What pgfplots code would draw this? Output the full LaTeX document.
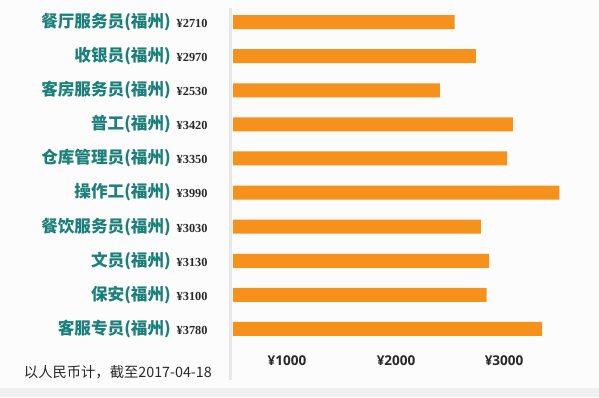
\documentclass[border=0pt]{standalone}
\usepackage{fontspec}
\usepackage{pgfplots}
\pgfplotsset{compat=1.18}
\setmainfont{Liberation Sans}
\newfontfamily\cjk{Noto Sans CJK SC}
\newfontfamily\valfont{Liberation Serif}
\newfontfamily\tickfont{Open Sans}
\definecolor{barorange}{RGB}{246,146,28}
\definecolor{tealtxt}{RGB}{28,128,122}
\definecolor{darktxt}{RGB}{40,40,40}
\newcommand{\lab}[2]{\textcolor{tealtxt}{\cjk\bfseries\fontsize{16.6}{16.6}\selectfont #1}\hspace{6pt}{\valfont\bfseries\fontsize{12.3}{12.3}\selectfont\color{darktxt}¥#2}}
\begin{document}
\begin{tikzpicture}[x=1pt,y=1pt]
\fill[black!1] (0,0) rectangle (599,397);
\fill[black!6] (0,0) rectangle (599,9);
\fill[black!9] (228.5,17) rectangle (231.5,389);
\begin{axis}[
  at={(233pt,51pt)}, anchor=south west,
  scale only axis, width=357pt, height=341pt,
  xmin=0, xmax=4364, ymin=-0.5, ymax=9.5, y dir=reverse,
  axis line style={draw=none}, tick style={draw=none},
  xbar, bar width=14pt,
  xtick={660,1993,3313},
  xticklabels={¥1000,¥2000,¥3000},
  xticklabel style={font=\tickfont\bfseries\fontsize{13.5}{13.5}\selectfont, text=darktxt, yshift=-6pt},
  ytick={0,...,9},
  yticklabels={\lab{餐厅服务员(福州)}{2710},\lab{收银员(福州)}{2970},\lab{客房服务员(福州)}{2530},\lab{普工(福州)}{3420},\lab{仓库管理员(福州)}{3350},\lab{操作工(福州)}{3990},\lab{餐饮服务员(福州)}{3030},\lab{文员(福州)}{3130},\lab{保安(福州)}{3100},\lab{客服专员(福州)}{3780}},
  yticklabel style={anchor=east, xshift=-17.7pt},
  clip=false,
]
\addplot[fill=barorange, draw=none] coordinates {(2710,0) (2970,1) (2530,2) (3420,3) (3350,4) (3990,5) (3030,6) (3130,7) (3100,8) (3780,9)};
\end{axis}
\node[anchor=east, inner sep=0pt, text=darktxt, font=\cjk\fontsize{14.3}{14.3}\selectfont] at (212,25) {以人民币计，截至2017-04-18};
\end{tikzpicture}
\end{document}
